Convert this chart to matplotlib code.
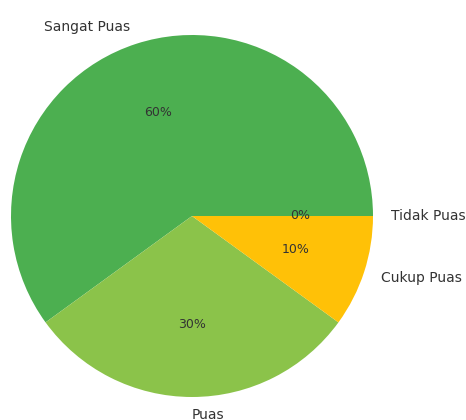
import matplotlib
matplotlib.use("Agg")
import matplotlib.pyplot as plt

labels = ["Sangat Puas", "Puas", "Cukup Puas", "Tidak Puas"]
values = [60, 30, 10, 0]
colors = ["#4CAF50", "#8BC34A", "#FFC107", "#F44336"]

W, H = 466, 420
cx, cy, r = 192, 216, 181
fig = plt.figure(figsize=(W / 100, H / 100), dpi=100)
ax = fig.add_axes([(cx - r) / W, (H - cy - r) / H, 2 * r / W, 2 * r / H])
wedges, texts, autotexts = ax.pie(values, labels=labels, colors=colors,
                                  autopct="%1.0f%%", startangle=0,
                                  textprops={"color": "#333333"})
for t in texts:
    t.set_fontsize(10)
    t.set_clip_on(False)
for t in autotexts:
    t.set_fontsize(9)
ax.set_xlim(-1, 1)
ax.set_ylim(-1, 1)
ax.set_aspect("equal")
ax.axis("off")
fig.savefig("out.png", dpi=100)
